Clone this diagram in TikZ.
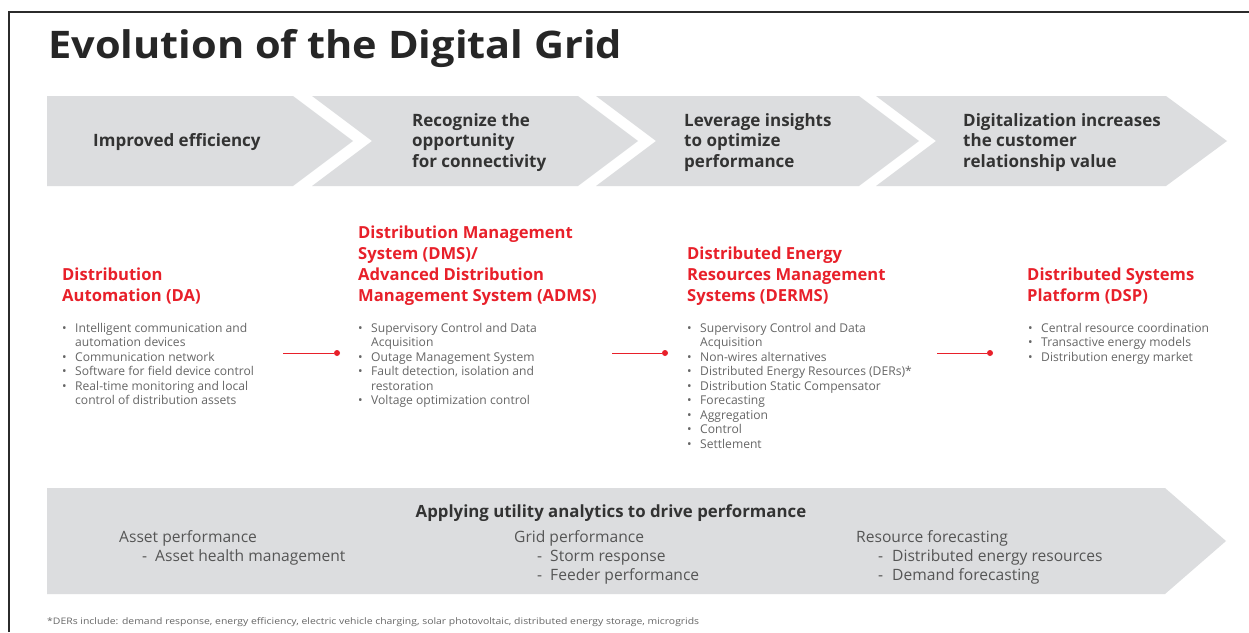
\documentclass[tikz,border=0pt]{standalone}
\usepackage{fontspec}
\usepackage{graphicx}
\setmainfont{Open Sans}
\definecolor{chevc}{HTML}{DCDDDF}
\definecolor{frmc}{HTML}{2B2B2B}
\definecolor{ttlc}{HTML}{262626}
\definecolor{hdc}{HTML}{333333}
\definecolor{abbred}{HTML}{E8202A}
\definecolor{txtc}{HTML}{666666}
\definecolor{btxt}{HTML}{555555}
\newcommand\bi[1]{\makebox[13pt][l]{\textbullet}#1}
\newcommand\bc[1]{\makebox[13pt][l]{}#1}
\begin{document}
\begin{tikzpicture}[x=1pt,y=-1pt,
  chev/.style={fill=chevc, draw=none},
  chevtext/.style={anchor=base west, align=left, text=hdc, font=\bfseries\fontsize{17}{20.5}\selectfont, inner sep=0},
  redhead/.style={anchor=base west, align=left, text=abbred, font=\bfseries\fontsize{16.6}{20.7}\selectfont, inner sep=0},
  blist/.style={anchor=base west, align=left, text=txtc, font=\fontsize{12.1}{14.5}\selectfont, inner sep=0},
  conn/.style={abbred, line width=1pt},
  dotc/.style={circle, fill=abbred, inner sep=0, minimum size=6pt},
  btext/.style={anchor=base west, align=left, text=btxt, font=\fontsize{15.6}{19}\selectfont, inner sep=0}
]
\useasboundingbox (0,0) rectangle (1249,632);
\fill[white] (0,0) rectangle (1249,632);
\draw[frmc, line width=2.5pt] (9,632) -- (9,12) -- (1249,12);

% title
\node[anchor=base west, inner sep=0, font=\bfseries\fontsize{38}{40}\selectfont, text=ttlc] (title) at (48,58) {\resizebox{574pt}{\height}{Evolution of the Digital Grid}};

% chevrons
\fill[chev] (47,96) -- (293,96) -- (353,141) -- (293,186) -- (47,186) -- cycle;
\fill[chev] (312,96) -- (578,96) -- (638,141) -- (578,186) -- (312,186) -- (372,141) -- cycle;
\fill[chev] (596,96) -- (859,96) -- (919,141) -- (859,186) -- (596,186) -- (656,141) -- cycle;
\fill[chev] (876,96) -- (1166,96) -- (1227,141) -- (1166,186) -- (876,186) -- (936,141) -- cycle;

% (multi-line nodes are placed by the baseline of their last line)
\node[chevtext] (ct1) at (93,146.5) {Improved efficiency};
\node[chevtext] (ct2) at (412,167) {Recognize the\\opportunity\\for connectivity};
\node[chevtext] (ct3) at (684,167) {Leverage insights\\to optimize\\performance};
\node[chevtext] (ct4) at (963,167) {Digitalization increases\\the customer\\relationship value};

% headings
\node[redhead] (h1) at (62,301) {Distribution\\Automation (DA)};
\node[redhead] (h2) at (358,301) {Distribution Management\\System (DMS)/\\Advanced Distribution\\Management System (ADMS)};
\node[redhead] (h3) at (687,301) {Distributed Energy\\Resources Management\\Systems (DERMS)};
\node[redhead] (h4) at (1027,301) {Distributed Systems\\Platform (DSP)};

% bullet lists
\node[blist] (l1) at (62,404.5) {\bi{Intelligent communication and}\\\bc{automation devices}\\\bi{Communication network}\\\bi{Software for field device control}\\\bi{Real-time monitoring and local}\\\bc{control of distribution assets}};
\node[blist] (l2) at (358,404.5) {\bi{Supervisory Control and Data}\\\bc{Acquisition}\\\bi{Outage Management System}\\\bi{Fault detection, isolation and}\\\bc{restoration}\\\bi{Voltage optimization control}};
\node[blist] (l3) at (687,448) {\bi{Supervisory Control and Data}\\\bc{Acquisition}\\\bi{Non-wires alternatives}\\\bi{Distributed Energy Resources (DERs)*}\\\bi{Distribution Static Compensator}\\\bi{Forecasting}\\\bi{Aggregation}\\\bi{Control}\\\bi{Settlement}};
\node[blist] (l4) at (1028,361) {\bi{Central resource coordination}\\\bi{Transactive energy models}\\\bi{Distribution energy market}};

% connectors
\coordinate (c1s) at (283,353);
\node[dotc] (c1e) at (337,353) {};
\draw[conn] (c1s) -- (c1e);
\coordinate (c2s) at (612,353);
\node[dotc] (c2e) at (665,353) {};
\draw[conn] (c2s) -- (c2e);
\coordinate (c3s) at (937,353);
\node[dotc] (c3e) at (990,353) {};
\draw[conn] (c3s) -- (c3e);

% bottom arrow
\fill[chev] (47,488) -- (1165,488) -- (1226,541) -- (1165,594) -- (47,594) -- cycle;
\node[anchor=base, inner sep=0, text=hdc, font=\bfseries\fontsize{16.8}{19}\selectfont] (bt) at (611,517) {Applying utility analytics to drive performance};
\node[btext] (b1) at (119,561.5) {Asset performance\\\makebox[23pt][l]{}\makebox[13pt][l]{-}Asset health management};
\node[btext] (b2) at (514,580.5) {Grid performance\\\makebox[23pt][l]{}\makebox[13pt][l]{-}Storm response\\\makebox[23pt][l]{}\makebox[13pt][l]{-}Feeder performance};
\node[btext] (b3) at (856,580.5) {Resource forecasting\\\makebox[22pt][l]{}\makebox[14pt][l]{-}Distributed energy resources\\\makebox[22pt][l]{}\makebox[14pt][l]{-}Demand forecasting};

% footnote
\node[anchor=base west, inner sep=0, text=txtc, font=\fontsize{9}{10}\selectfont] (fn) at (47,624) {\resizebox{652pt}{\height}{*DERs include: demand response, energy efficiency, electric vehicle charging, solar photovoltaic, distributed energy storage, microgrids}};
\end{tikzpicture}
\end{document}
